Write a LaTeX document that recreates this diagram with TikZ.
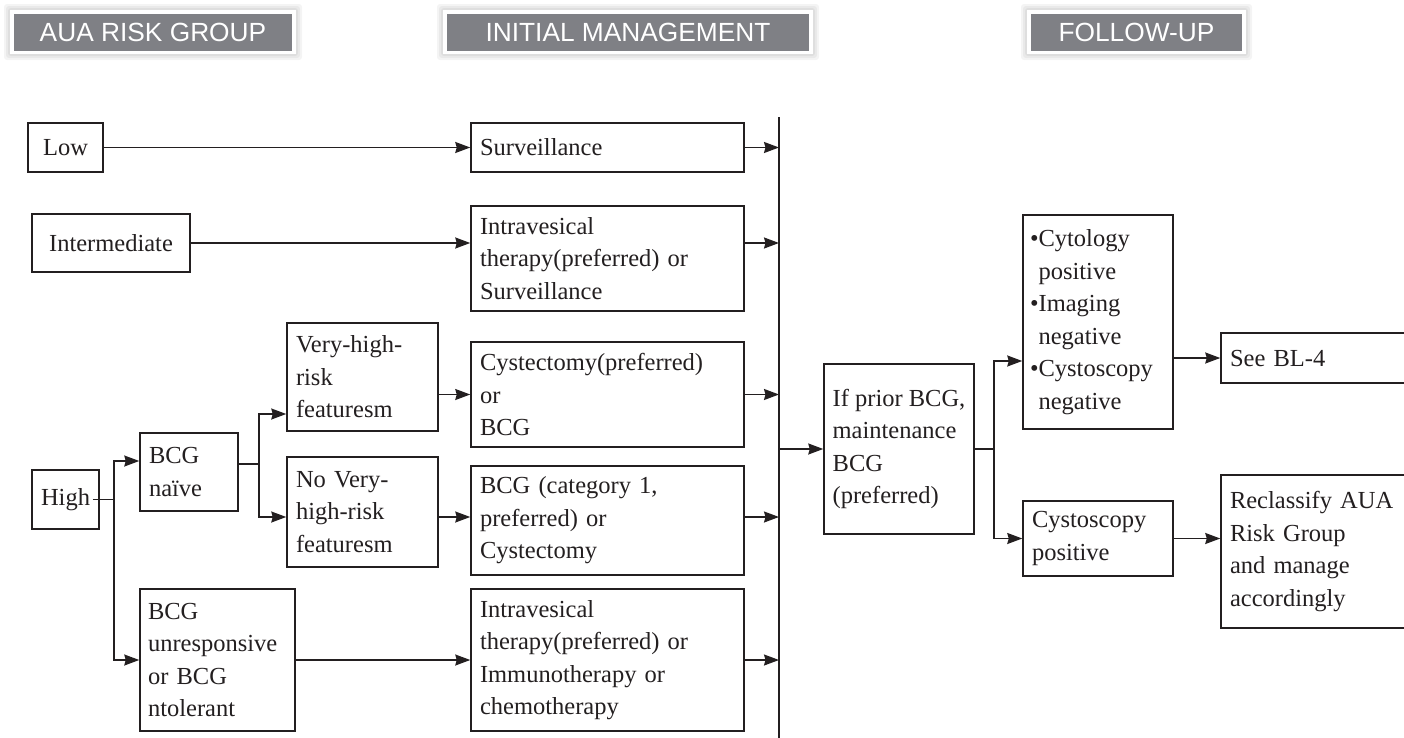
\documentclass[tikz,border=0pt]{standalone}
\usepackage{fontspec}
\setmainfont{Liberation Serif}
\newfontfamily\hdrfont{Liberation Sans}
\usetikzlibrary{arrows.meta,calc}
\definecolor{hdrgray}{RGB}{127,128,133}
\definecolor{ink}{RGB}{35,31,32}
\begin{document}
\begin{tikzpicture}[x=1pt,y=-1pt,
  every node/.style={font=\fontsize{24.5}{32.5}\selectfont, text=ink},
  bx/.style={draw=ink, line width=1.5pt, rectangle, inner xsep=9pt, inner ysep=0pt, align=left, anchor=center},
  bxc/.style={bx, align=center},
  hdr/.style={fill=hdrgray, text=white, inner sep=0pt, font=\hdrfont\fontsize{26.3}{30}\selectfont},
  ln/.style={draw=ink, line width=1.5pt},
  arr/.style={ln, -{Stealth[length=15pt,width=11pt,inset=1.5pt]}},
  glow/.style={fill=black, opacity=0.045, rounded corners=3pt}]
\useasboundingbox (0,0) rectangle (1404,737);
\clip (0,0) rectangle (1404,737);
\fill[white] (0,0) rectangle (1404,737);

% headers
\foreach \a/\b in {10/296, 443/813, 1027/1246}{
  \fill[glow] (\a-6,4) rectangle (\b+6,60);
  \fill[glow] (\a-4,6) rectangle (\b+4,58);
  \fill[glow] (\a-2,8) rectangle (\b+2,56);
  \fill[white] (\a,10) rectangle (\b,54);
}
\node[hdr, minimum width=278pt, minimum height=37pt] (h1) at (153,32.5) {AUA RISK GROUP};
\node[hdr, minimum width=362pt, minimum height=37pt] (h2) at (628,32.5) {INITIAL MANAGEMENT};
\node[hdr, minimum width=211pt, minimum height=37pt] (h3) at (1136.5,32.5) {FOLLOW-UP};

% left column
\node[bxc, minimum width=75pt, minimum height=49pt, text width=57pt] (low) at (65.5,147.5) {Low};
\node[bxc, minimum width=158pt, minimum height=58pt, text width=140pt] (inter) at (111,243) {Intermediate};
\node[bxc, minimum width=67pt, minimum height=59pt, text width=55pt, inner xsep=6pt] (high) at (65.5,499.5) {High};
\node[bx, minimum width=98pt, minimum height=78pt, text width=80pt] (bcgn) at (189,472) {BCG\\naïve};
\node[bx, minimum width=151pt, minimum height=108pt, text width=133pt] (vhr) at (362.5,377) {Very-high-\\risk\\featuresm};
\node[bx, minimum width=151pt, minimum height=110pt, text width=133pt] (nvhr) at (362.5,512) {No Very-\\high-risk\\featuresm};
\node[bx, minimum width=155pt, minimum height=142pt, text width=139pt, inner xsep=8pt] (bcgu) at (217.5,660) {BCG\\unresponsive\\or BCG\\ntolerant};

% middle column
\node[bx, minimum width=273pt, minimum height=49pt, text width=255pt] (surv) at (607.5,147.5) {Surveillance};
\node[bx, minimum width=273pt, minimum height=105pt, text width=255pt] (intra1) at (607.5,258.5) {Intravesical\\therapy(preferred) or\\Surveillance};
\node[bx, minimum width=273pt, minimum height=105pt, text width=255pt] (cyst) at (607.5,394.5) {Cystectomy(preferred)\\or\\BCG};
\node[bx, minimum width=273pt, minimum height=109pt, text width=255pt] (bcgc) at (607.5,520.5) {BCG (category 1,\\preferred) or\\Cystectomy};
\node[bx, minimum width=273pt, minimum height=142pt, text width=255pt] (intra2) at (607.5,660) {Intravesical\\therapy(preferred) or\\Immunotherapy or\\chemotherapy};

% right
\node[bx, minimum width=150pt, minimum height=170pt, inner xsep=0pt] (prior) at (899,449) {If prior BCG,\\maintenance\\BCG\\(preferred)};
\node[bx, minimum width=150pt, minimum height=214pt, text width=136pt, inner xsep=7pt] (cyto) at (1098,322) {•Cytology\\\phantom{•}positive\\•Imaging\\\phantom{•}negative\\•Cystoscopy\\\phantom{•}negative};
\node[bx, minimum width=199pt, minimum height=50pt, text width=181pt] (bl4) at (1320.5,358) {See BL-4};
\node[bx, minimum width=150pt, minimum height=75pt, text width=132pt] (cpos) at (1098,538.5) {Cystoscopy\\positive};
\node[bx, minimum width=199pt, minimum height=153pt, text width=181pt] (recl) at (1320.5,551.5) {Reclassify AUA\\Risk Group\\and manage\\accordingly};

% helper coordinates
\coordinate (vt) at (779,117);
\coordinate (vb) at (779,740);
\coordinate (r4) at (0,517);
\coordinate (y414) at (0,414);
\coordinate (y461) at (0,461);
\coordinate (y361) at (0,361);
\coordinate (hb) at (114,499.5);
\coordinate (nb) at (259,464);
\coordinate (pb) at (994,449);

% connectors
\draw[ln] (vt) -- (vb);
\draw[arr] (low.east) -- (surv.west);
\draw[arr] (inter.east) -- (inter.east -| surv.west);
\draw[arr] (surv.east) -- (surv.east -| vt);
\draw[arr] (intra1.east |- inter.east) -- (inter.east -| vt);
\draw[arr] (cyst.east) -- (cyst.east -| vt);
\draw[arr] (bcgc.east |- r4) -- (r4 -| vt);
\draw[arr] (intra2.east) -- (intra2.east -| vt);
\draw[arr] (bcgu.east) -- (intra2.west);
\draw[arr] (vhr.east |- cyst.east) -- (cyst.west);
\draw[arr] (nvhr.east |- r4) -- (bcgc.west |- r4);
\draw[arr] (prior.west -| vt) -- (prior.west);

\draw[ln] ([xshift=-7pt]high.east) -- (hb);
\draw[arr] (hb) |- (bcgn.west |- y461);
\draw[arr] (hb) |- (bcgu.west);

\draw[ln] (bcgn.east |- nb) -- (nb);
\draw[arr] (nb) |- (vhr.west |- y414);
\draw[arr] (nb) |- (nvhr.west |- r4);

\draw[ln] (prior.east) -- (pb);
\draw[arr] (pb) |- (cyto.west |- y361);
\draw[arr] (pb) |- (cpos.west);
\draw[arr] (cyto.east |- bl4.west) -- (bl4.west);
\draw[arr] (cpos.east) -- (recl.west |- cpos.east);
\end{tikzpicture}
\end{document}
